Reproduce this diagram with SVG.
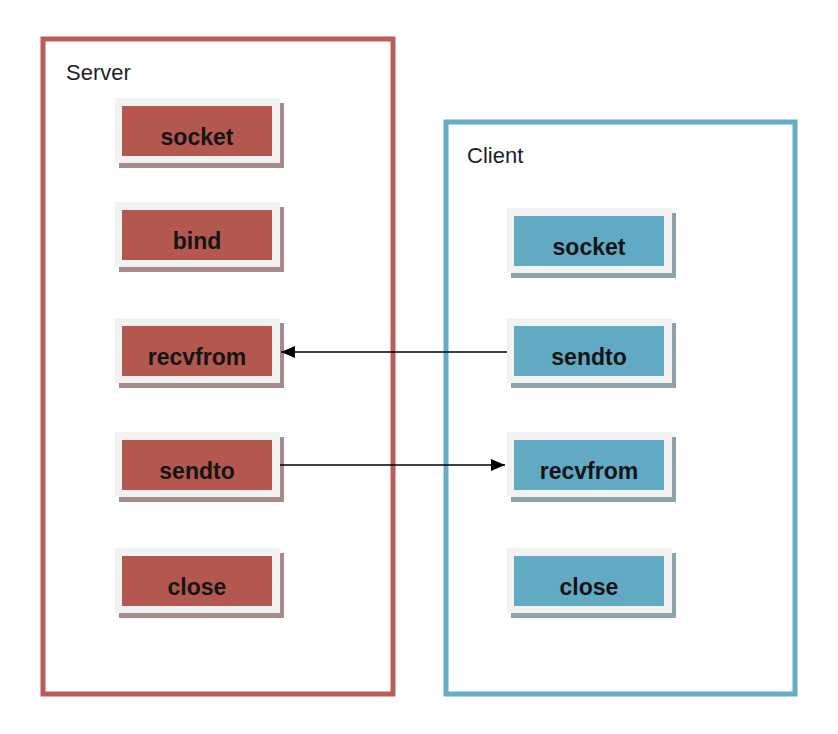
<svg xmlns="http://www.w3.org/2000/svg" width="838" height="734" viewBox="0 0 838 734">
<defs>
<style>
.frame{fill:none;stroke-width:5}
.srv{stroke:#b95d58}
.cli{stroke:#67acc6}
.lbl{font-family:"Liberation Sans",Arial,sans-serif;font-size:22px;fill:#1e1e2a}
.pad{fill:#f2f2f2}
.shR{fill:#a98a8b}
.shB{fill:#8ea3ad}
.inR{fill:#b3584f}
.inB{fill:#62a9c3}
.txt{font-family:"Liberation Sans",Arial,sans-serif;font-size:23px;font-weight:bold;fill:#141414;text-anchor:middle}
.conn{stroke:#000;stroke-width:1.5;fill:none}
</style>
<marker id="ah" viewBox="0 0 14 12" refX="14" refY="6" markerWidth="14" markerHeight="12" markerUnits="userSpaceOnUse" orient="auto">
<path d="M0,0 L14,6 L0,12 Z" fill="#000"/>
</marker>
</defs>
<rect width="838" height="734" fill="#fff"/>
<g id="server">
<rect class="frame srv" x="43" y="39" width="350" height="655"/>
<text class="lbl" x="66" y="80">Server</text>
</g>
<g id="client">
<rect class="frame cli" x="446" y="122" width="349" height="572"/>
<text class="lbl" x="467" y="163">Client</text>
</g>
<g id="s-socket">
<rect class="shR" x="119" y="103" width="165" height="65"/>
<rect class="pad" x="115" y="98" width="165" height="65"/>
<rect class="inR" x="122" y="106" width="150" height="50"/>
<text class="txt" x="197" y="145">socket</text>
</g>
<g id="s-bind">
<rect class="shR" x="119" y="207" width="165" height="65"/>
<rect class="pad" x="115" y="202" width="165" height="65"/>
<rect class="inR" x="122" y="210" width="150" height="50"/>
<text class="txt" x="197" y="249">bind</text>
</g>
<g id="s-recvfrom">
<rect class="shR" x="119" y="323" width="165" height="65"/>
<rect class="pad" x="115" y="318" width="165" height="65"/>
<rect class="inR" x="122" y="326" width="150" height="50"/>
<text class="txt" x="197" y="365">recvfrom</text>
</g>
<g id="s-sendto">
<rect class="shR" x="119" y="437" width="165" height="65"/>
<rect class="pad" x="115" y="432" width="165" height="65"/>
<rect class="inR" x="122" y="440" width="150" height="50"/>
<text class="txt" x="197" y="479">sendto</text>
</g>
<g id="s-close">
<rect class="shR" x="119" y="553" width="165" height="65"/>
<rect class="pad" x="115" y="548" width="165" height="65"/>
<rect class="inR" x="122" y="556" width="150" height="50"/>
<text class="txt" x="197" y="595">close</text>
</g>
<g id="c-socket">
<rect class="shB" x="511" y="213" width="165" height="65"/>
<rect class="pad" x="507" y="208" width="165" height="65"/>
<rect class="inB" x="514" y="216" width="150" height="50"/>
<text class="txt" x="589" y="255">socket</text>
</g>
<g id="c-sendto">
<rect class="shB" x="511" y="323" width="165" height="65"/>
<rect class="pad" x="507" y="318" width="165" height="65"/>
<rect class="inB" x="514" y="326" width="150" height="50"/>
<text class="txt" x="589" y="365">sendto</text>
</g>
<g id="c-recvfrom">
<rect class="shB" x="511" y="437" width="165" height="65"/>
<rect class="pad" x="507" y="432" width="165" height="65"/>
<rect class="inB" x="514" y="440" width="150" height="50"/>
<text class="txt" x="589" y="479">recvfrom</text>
</g>
<g id="c-close">
<rect class="shB" x="511" y="553" width="165" height="65"/>
<rect class="pad" x="507" y="548" width="165" height="65"/>
<rect class="inB" x="514" y="556" width="150" height="50"/>
<text class="txt" x="589" y="595">close</text>
</g>
<g id="connectors">
<line class="conn" x1="507" y1="352" x2="281" y2="352" marker-end="url(#ah)"/>
<line class="conn" x1="280" y1="465" x2="505" y2="465" marker-end="url(#ah)"/>
</g>
</svg>
